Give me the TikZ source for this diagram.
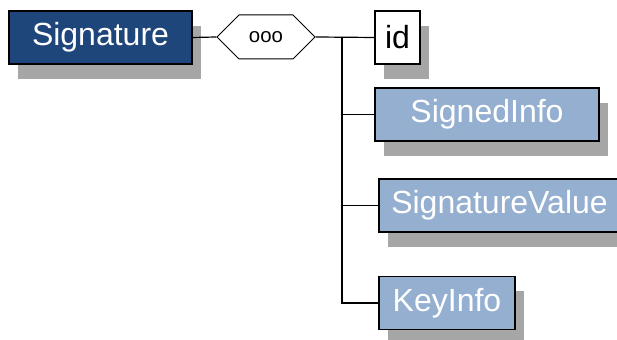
\documentclass[tikz,border=0pt]{standalone}
\usepackage{fontspec}
\setmainfont{Liberation Sans}
\usetikzlibrary{shapes.symbols, shadows, positioning}

\definecolor{darkblue}{RGB}{31,70,122}
\definecolor{lightblue}{RGB}{149,175,208}
\definecolor{shadowgray}{RGB}{166,166,166}

\begin{document}
\begin{tikzpicture}[
  x=0.5pt, y=-0.5pt,
  elem/.style={rectangle, draw=black, line width=0.6pt, inner sep=0pt,
               minimum height=26.5pt, font=\fontsize{16}{18}\selectfont,
               drop shadow={shadow xshift=4.5pt, shadow yshift=-7.5pt,
                            fill=shadowgray, opacity=1}},
  root/.style={elem, fill=darkblue, text=white},
  child/.style={elem, fill=lightblue, text=white},
  attr/.style={elem, fill=white, text=black},
  seq/.style={signal, signal to=west and east, signal pointer angle=90,
              draw=black, line width=0.5pt, fill=white, inner sep=0pt,
              minimum width=49pt, minimum height=22pt,
              font=\fontsize{10.2}{12}\selectfont},
  link/.style={line width=0.6pt},
]
  \useasboundingbox (0,0) rectangle (617,340);

  \node[root,  minimum width=91.5pt]  (signature) at (100.5,37.5) {Signature};
  \node[seq]                          (sequence)  at (266,37)     {ooo};
  \node[attr,  minimum width=22.5pt]  (id)        at (397.5,37.5) {id};
  \node[child, minimum width=112pt]   (signedinfo) at (487,114.5) {SignedInfo};
  \node[child, minimum width=120.5pt] (sigvalue)  at (499.5,205.5) {SignatureValue};
  \node[child, minimum width=68pt]    (keyinfo)   at (447,303)    {KeyInfo};

  \coordinate (junction) at (342,37);

  \draw[link] (signature.east) -- (sequence.west);
  \draw[link] (sequence.east) -- (id.west);
  \draw[link] (junction) |- (signedinfo.west);
  \draw[link] (junction) |- (sigvalue.west);
  \draw[link] (junction) |- (keyinfo.west);
\end{tikzpicture}
\end{document}
